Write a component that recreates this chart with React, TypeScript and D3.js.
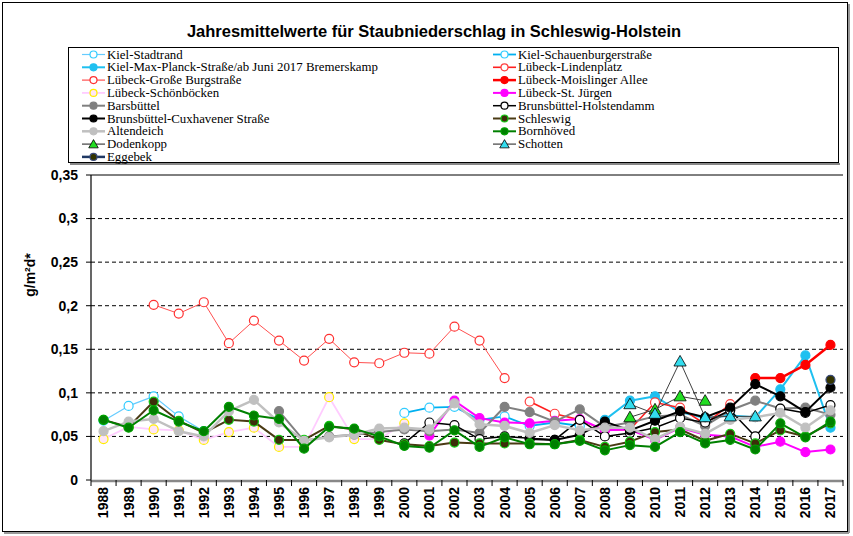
import React from 'react';
import * as d3 from 'd3';

const years = ['1988','1989','1990','1991','1992','1993','1994','1995','1996','1997','1998','1999','2000','2001','2002','2003','2004','2005','2006','2007','2008','2009','2010','2011','2012','2013','2014','2015','2016','2017'];
const yTicks = [0, 0.05, 0.1, 0.15, 0.2, 0.25, 0.3, 0.35];
const yTickLabels = ['0', '0,05', '0,1', '0,15', '0,2', '0,25', '0,3', '0,35'];

const N = null;
const kielStadtrand = [0.068, 0.085, 0.096, 0.073, 0.056, N, N, N, N, N, N, N, N, N, N, N, N, N, N, N, N, N, N, N, N, N, N, N, N, N];
const kielSchauenburger = [N, N, N, N, N, N, N, N, N, N, N, N, 0.077, 0.083, 0.084, 0.069, 0.073, 0.062, 0.066, 0.062, N, N, N, N, N, N, N, N, N, N];
const kielMaxPlanck = [N, N, N, N, N, N, N, N, N, N, N, N, N, N, N, N, N, N, N, N, 0.069, 0.091, 0.096, 0.078, 0.071, 0.074, 0.072, 0.104, 0.143, 0.060];
const luebeckLindenplatz = [N, N, N, N, N, N, N, N, N, N, N, N, N, N, N, N, N, 0.090, 0.076, 0.069, 0.057, 0.058, 0.089, 0.083, 0.064, 0.087, N, N, N, N];
const luebeckGrosseBurg = [N, N, 0.201, 0.191, 0.204, 0.157, 0.183, 0.160, 0.137, 0.162, 0.135, 0.134, 0.146, 0.145, 0.176, 0.160, 0.117, N, N, N, N, N, N, N, N, N, N, N, N, N];
const luebeckMoislinger = [N, N, N, N, N, N, N, N, N, N, N, N, N, N, N, N, N, N, N, N, N, N, N, N, N, N, 0.117, 0.117, 0.132, 0.155];
const luebeckSchoenboecken = [0.047, 0.061, 0.058, 0.057, 0.046, 0.055, 0.060, 0.038, 0.038, 0.095, 0.047, 0.047, 0.065, N, N, N, N, N, N, N, N, N, N, N, N, N, N, N, N, N];
const luebeckStJuergen = [N, N, N, N, N, N, N, N, N, N, N, N, N, 0.051, 0.091, 0.071, 0.066, 0.065, 0.068, 0.070, 0.057, 0.058, 0.046, 0.060, 0.052, 0.050, 0.038, 0.044, 0.032, 0.035];
const barsbuettel = [N, N, N, N, N, N, N, 0.079, 0.045, 0.050, 0.052, 0.055, 0.058, 0.056, 0.058, 0.054, 0.084, 0.078, 0.067, 0.081, 0.061, 0.066, 0.073, 0.075, 0.062, 0.080, 0.091, 0.082, 0.083, 0.075];
const brunsHolstendamm = [N, N, N, N, N, N, N, N, N, N, N, N, 0.042, 0.066, 0.063, 0.047, 0.050, 0.048, 0.046, 0.069, 0.050, 0.054, 0.060, 0.071, 0.066, 0.080, 0.050, 0.082, 0.077, 0.086];
const brunsCuxhaven = [N, N, N, N, N, N, N, N, N, N, N, N, N, N, N, N, N, 0.047, 0.046, 0.052, 0.067, 0.057, 0.068, 0.079, 0.072, 0.083, 0.110, 0.096, 0.078, 0.106];
const schleswig = [0.069, 0.061, 0.090, 0.068, 0.054, 0.069, 0.067, 0.046, 0.046, 0.062, 0.058, 0.046, 0.041, 0.039, 0.043, 0.042, 0.042, 0.042, 0.041, 0.046, 0.038, 0.044, 0.055, 0.058, 0.045, 0.053, 0.042, 0.057, 0.050, 0.065];
const altendeich = [0.056, 0.067, 0.070, 0.056, 0.050, 0.079, 0.092, 0.066, 0.045, 0.049, 0.052, 0.059, 0.060, 0.058, 0.088, 0.064, 0.062, 0.054, 0.063, 0.057, 0.060, 0.060, 0.047, 0.061, 0.053, 0.069, 0.072, 0.077, 0.060, 0.080];
const bornhoeved = [0.069, 0.060, 0.080, 0.067, 0.056, 0.084, 0.074, 0.070, 0.036, 0.061, 0.059, 0.050, 0.039, 0.037, 0.057, 0.038, 0.049, 0.041, 0.041, 0.045, 0.034, 0.040, 0.038, 0.055, 0.042, 0.046, 0.035, 0.065, 0.049, 0.067];
const dodenkopp = [N, N, N, N, N, N, N, N, N, N, N, N, N, N, N, N, N, N, N, N, N, 0.072, 0.081, 0.096, 0.091, N, N, N, N, N];
const schotten = [N, N, N, N, N, N, N, N, N, N, N, N, N, N, N, N, N, N, N, N, N, 0.087, 0.076, 0.136, 0.072, 0.073, 0.073, N, N, N];
const eggebek = [N, N, N, N, N, N, N, N, N, N, N, N, N, N, N, N, N, N, N, N, N, N, N, N, N, N, N, N, N, 0.115];

type Style = { line: string; width: number; marker: 'circle' | 'triangle'; fill: string; stroke: string };

const series: { name: string; values: (number | null)[]; style: Style }[] = [
  { name: 'Kiel-Stadtrand', values: kielStadtrand, style: { line: '#66CCFF', width: 1.2, marker: 'circle', fill: '#FFFFFF', stroke: '#33CCFF' } },
  { name: 'Kiel-Schauenburgerstraße', values: kielSchauenburger, style: { line: '#00B0F0', width: 1.8, marker: 'circle', fill: '#FFFFFF', stroke: '#33CCFF' } },
  { name: 'Kiel-Max-Planck-Straße/ab Juni 2017 Bremerskamp', values: kielMaxPlanck, style: { line: '#1FC0F0', width: 2, marker: 'circle', fill: '#1FC0F0', stroke: '#1FC0F0' } },
  { name: 'Lübeck-Lindenplatz', values: luebeckLindenplatz, style: { line: '#FF2020', width: 1.6, marker: 'circle', fill: '#FFFFFF', stroke: '#FF4040' } },
  { name: 'Lübeck-Große Burgstraße', values: luebeckGrosseBurg, style: { line: '#FF5050', width: 1, marker: 'circle', fill: '#FFFFFF', stroke: '#FF3030' } },
  { name: 'Lübeck-Moislinger Allee', values: luebeckMoislinger, style: { line: '#FF0000', width: 2.5, marker: 'circle', fill: '#FF0000', stroke: '#FF0000' } },
  { name: 'Lübeck-Schönböcken', values: luebeckSchoenboecken, style: { line: '#FFCCFF', width: 1.8, marker: 'circle', fill: '#FFE6F6', stroke: '#FFEE00' } },
  { name: 'Lübeck-St. Jürgen', values: luebeckStJuergen, style: { line: '#FF00FF', width: 2, marker: 'circle', fill: '#FF00FF', stroke: '#FF00FF' } },
  { name: 'Barsbüttel', values: barsbuettel, style: { line: '#808080', width: 2, marker: 'circle', fill: '#808080', stroke: '#808080' } },
  { name: 'Brunsbüttel-Holstendamm', values: brunsHolstendamm, style: { line: '#000000', width: 1.5, marker: 'circle', fill: '#FFFFFF', stroke: '#000000' } },
  { name: 'Brunsbüttel-Cuxhavener Straße', values: brunsCuxhaven, style: { line: '#000000', width: 2, marker: 'circle', fill: '#000000', stroke: '#000000' } },
  { name: 'Schleswig', values: schleswig, style: { line: '#4A3A14', width: 2, marker: 'circle', fill: '#3D2E0A', stroke: '#11CC11' } },
  { name: 'Altendeich', values: altendeich, style: { line: '#C0C0C0', width: 2.5, marker: 'circle', fill: '#C0C0C0', stroke: '#C0C0C0' } },
  { name: 'Bornhöved', values: bornhoeved, style: { line: '#008000', width: 2, marker: 'circle', fill: '#008000', stroke: '#00A000' } },
  { name: 'Dodenkopp', values: dodenkopp, style: { line: '#404040', width: 1, marker: 'triangle', fill: '#22DD22', stroke: '#000000' } },
  { name: 'Schotten', values: schotten, style: { line: '#404040', width: 1, marker: 'triangle', fill: '#33DDEE', stroke: '#000000' } },
  { name: 'Eggebek', values: eggebek, style: { line: '#1F3864', width: 2.5, marker: 'circle', fill: '#333300', stroke: '#3A4A7A' } },
];

const W = 853, H = 536;
const plot = { left: 91, right: 843, top: 175, bottom: 480 };

function Marker({ cx, cy, s, r }: { cx: number; cy: number; s: Style; r: number }) {
  if (s.marker === 'triangle') {
    const path = d3.symbol(d3.symbolTriangle, r * r * 3.2)()!;
    return <path d={path} transform={`translate(${cx},${cy + 1})`} fill={s.fill} stroke={s.stroke} strokeWidth={0.8} />;
  }
  return <circle cx={cx} cy={cy} r={r} fill={s.fill} stroke={s.stroke} strokeWidth={1.2} />;
}

export default function App() {
  const x = d3.scaleBand<string>().domain(years).range([plot.left, plot.right]);
  const y = d3.scaleLinear().domain([0, 0.35]).range([plot.bottom, plot.top]);
  const bw = x.bandwidth();
  const cx = (i: number) => (x(years[i]) as number) + bw / 2;
  const line = d3.line<number | null>()
    .defined((v) => v != null)
    .x((_, i) => cx(i))
    .y((v) => y(v as number));

  const font = 'Liberation Sans, Arial, sans-serif';
  const serif = 'Liberation Serif, Times New Roman, serif';

  return (
    <svg width={W} height={H} style={{ position: 'absolute', left: 0, top: 0, background: '#fff' }}>
      {/* outer frame */}
      <rect x={2.5} y={2.5} width={845} height={529} fill="#fff" stroke="#000" strokeWidth={1} />
      <line x1={4} y1={533} x2={849} y2={533} stroke="#999" strokeWidth={2} />
      <line x1={849} y1={4} x2={849} y2={533} stroke="#999" strokeWidth={2} />

      <text x={434} y={37} textAnchor="middle" fontFamily={font} fontWeight="bold" fontSize={16.5}>
        Jahresmittelwerte für Staubniederschlag in Schleswig-Holstein
      </text>

      {/* legend */}
      <rect x={68.5} y={47.5} width={770} height={115} fill="#fff" stroke="#000" strokeWidth={1} />
      <line x1={70} y1={164} x2={840} y2={164} stroke="#888" strokeWidth={2} />
      {series.map((s, i) => {
        const col = i % 2;
        const row = Math.floor(i / 2);
        const lx = col === 0 ? 82 : 493;
        const ly = 54.5 + row * 12.8;
        return (
          <g key={s.name}>
            <line x1={lx} y1={ly} x2={lx + 23} y2={ly} stroke={s.style.line} strokeWidth={Math.max(s.style.width, 1.2)} />
            <Marker cx={lx + 11.5} cy={ly} s={s.style} r={3.5} />
            <text transform={`translate(${lx + 25},${ly}) scale(1.12,1)`} dy="0.36em" fontFamily={serif} fontSize={11.5}>{s.name}</text>
          </g>
        );
      })}

      {/* grid */}
      {yTicks.filter((t) => t > 0 && t < 0.35).map((t) => (
        <line key={t} x1={plot.left} x2={plot.right} y1={y(t)} y2={y(t)} stroke="#000" strokeDasharray="4,3" strokeWidth={1} />
      ))}
      <line x1={plot.left} x2={plot.right} y1={y(0.35)} y2={y(0.35)} stroke="#000" strokeWidth={1} />

      {/* y axis */}
      <line x1={plot.left} x2={plot.left} y1={plot.top} y2={plot.bottom} stroke="#000" strokeWidth={1.2} />
      {yTicks.map((t, i) => (
        <g key={t}>
          <line x1={plot.left - 5} x2={plot.left} y1={y(t)} y2={y(t)} stroke="#000" />
          <text x={78} y={y(t)} dy="0.35em" textAnchor="end" fontFamily={font} fontWeight="bold" fontSize={14}>{yTickLabels[i]}</text>
        </g>
      ))}
      <text transform={`translate(35,275) rotate(-90)`} textAnchor="middle" fontFamily={font} fontWeight="bold" fontSize={14}>g/m²d*</text>

      {/* x axis */}
      <line x1={plot.left} x2={plot.right} y1={plot.bottom + 1} y2={plot.bottom + 1} stroke="#888" strokeWidth={2.5} />
      {years.map((yr, i) => (
        <g key={yr}>
          <line x1={x(yr) as number} x2={x(yr) as number} y1={plot.bottom} y2={plot.bottom + 6} stroke="#000" />
          <text transform={`translate(${cx(i)},${plot.bottom + 7}) rotate(-90)`} textAnchor="end" dy="0.35em" fontFamily={font} fontWeight="bold" fontSize={14}>{yr}</text>
        </g>
      ))}
      <line x1={plot.right} x2={plot.right} y1={plot.bottom} y2={plot.bottom + 6} stroke="#000" />

      {/* series */}
      {series.map((s) => (
        <g key={s.name}>
          <path d={line(s.values) || ''} fill="none" stroke={s.style.line} strokeWidth={s.style.width} strokeLinejoin="round" />
          {s.values.map((v, i) => v == null ? null : (
            <Marker key={i} cx={cx(i)} cy={y(v)} s={s.style} r={4.5} />
          ))}
        </g>
      ))}
    </svg>
  );
}
